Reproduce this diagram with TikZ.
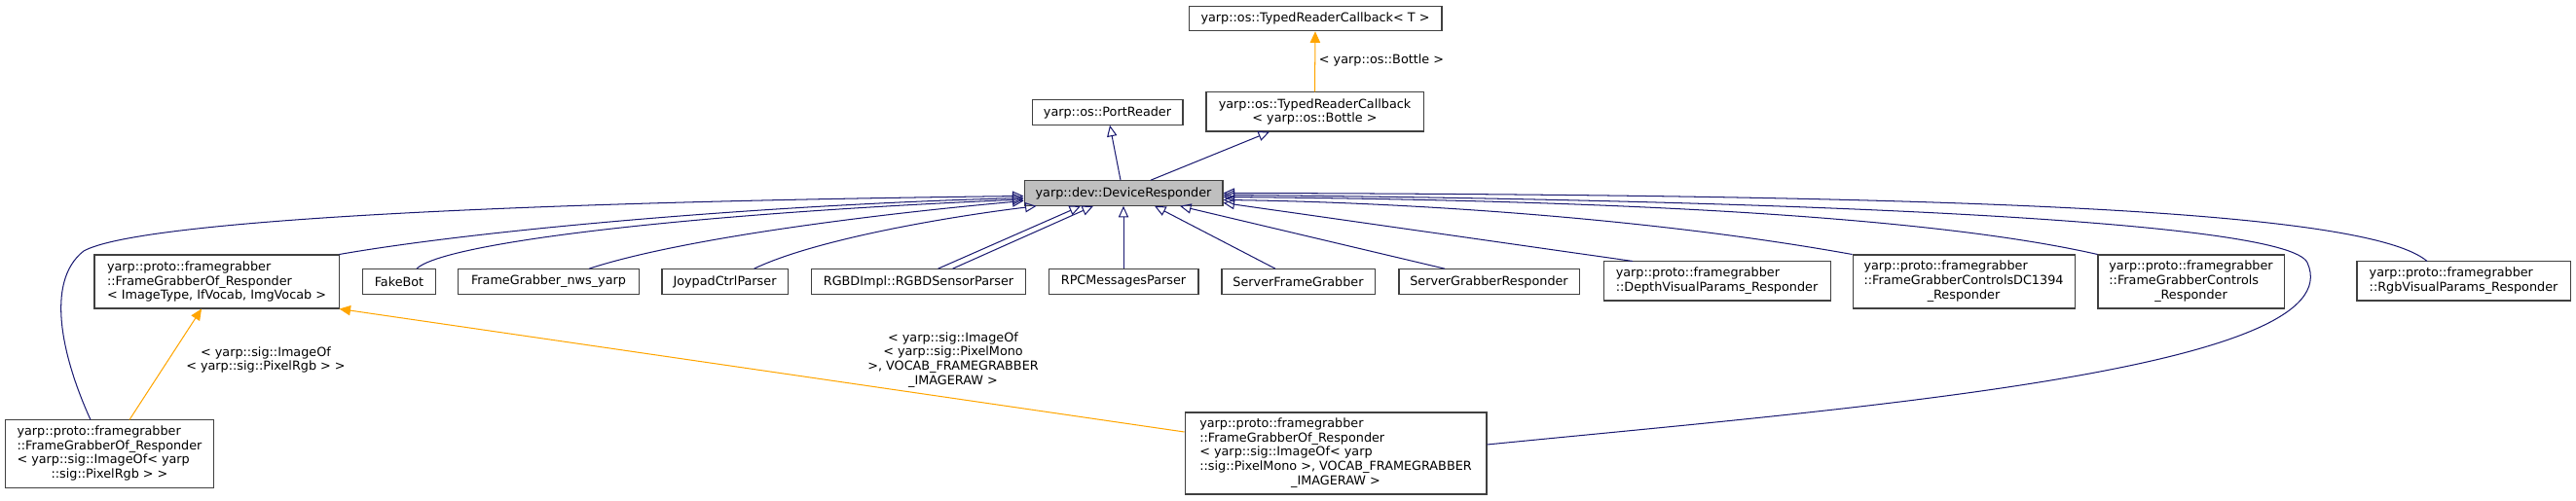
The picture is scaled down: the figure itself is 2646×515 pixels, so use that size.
\documentclass[tikz,border=0pt]{standalone}
\usepackage{fontspec}
\setmainfont{DejaVu Sans}
\usepackage{xcolor}
\usetikzlibrary{arrows.meta,calc}
\definecolor{edgeblue}{HTML}{191970}
\definecolor{edgeorange}{HTML}{FFA500}
\definecolor{boxline}{HTML}{404040}
\definecolor{curfill}{HTML}{BFBFBF}
\newcommand{\lastline}[1]{\multicolumn{1}{@{}c@{}}{#1}}

\begin{document}
\begin{tikzpicture}[x=0.782pt, y=-0.782pt]
  \tikzstyle{cls}=[draw=boxline, line width=0.8pt, fill=white, inner sep=0pt,
    font=\fontsize{10}{11.5}\selectfont, minimum height=20pt];
  \tikzstyle{current}=[cls, fill=curfill];
  \tikzstyle{inherit}=[draw=edgeblue, line width=0.8pt,
    -{Triangle[open, length=9pt, width=8pt]}];
  \tikzstyle{templ}=[draw=edgeorange, line width=0.8pt,
    -{Triangle[length=9pt, width=8pt]}];
  \tikzstyle{lbl}=[inner sep=0pt, font=\fontsize{10}{11.5}\selectfont];
  \useasboundingbox (0, 0) rectangle (2646, 515);

  \draw (1351, 19) node[cls, minimum width=203.3pt] (trcT) {yarp::os::TypedReaderCallback< T >};
  \draw (1350.5, 115) node[cls, minimum width=174.4pt, minimum height=31.3pt, align=center] (trcB)
    {yarp::os::TypedReaderCallback\\< yarp::os::Bottle >};
  \draw (1137.5, 115.5) node[cls, minimum width=121.2pt] (portreader) {yarp::os::PortReader};
  \draw (1154, 198.5) node[current, minimum width=159.5pt] (devresp) {yarp::dev::DeviceResponder};

  \draw (222.5, 289.5) node[cls, minimum width=196.3pt, minimum height=43pt, align=left] (fgofT)
    {yarp::proto::framegrabber\\::FrameGrabberOf\_Responder\\< ImageType, IfVocab, ImgVocab >};
  \draw (410, 289.5) node[cls, minimum width=57.9pt] (fakebot) {FakeBot};
  \draw (563.5, 289.5) node[cls, minimum width=144.7pt] (nws) {FrameGrabber\_nws\_yarp};
  \draw (744.5, 289.5) node[cls, minimum width=100.9pt] (joypad) {JoypadCtrlParser};
  \draw (943.5, 289.5) node[cls, minimum width=171.3pt] (rgbd) {RGBDImpl::RGBDSensorParser};
  \draw (1154, 289.5) node[cls, minimum width=120.4pt] (rpc) {RPCMessagesParser};
  \draw (1333.5, 289.5) node[cls, minimum width=122.8pt] (sfg) {ServerFrameGrabber};
  \draw (1529.5, 289.5) node[cls, minimum width=144.7pt] (sgr) {ServerGrabberResponder};
  \draw (1763.5, 289) node[cls, minimum width=182.2pt, minimum height=31.3pt, align=left] (depth)
    {yarp::proto::framegrabber\\::DepthVisualParams\_Responder};
  \draw (2017, 289.5) node[cls, minimum width=178.3pt, minimum height=43pt] (dc1394)
    {\begin{tabular}{@{}l@{}}yarp::proto::framegrabber\\::FrameGrabberControlsDC1394\\\lastline{\_Responder}\end{tabular}};
  \draw (2250.5, 289.5) node[cls, minimum width=149.4pt, minimum height=43pt] (fgctrl)
    {\begin{tabular}{@{}l@{}}yarp::proto::framegrabber\\::FrameGrabberControls\\\lastline{\_Responder}\end{tabular}};
  \draw (2530.5, 289) node[cls, minimum width=171.3pt, minimum height=31.3pt, align=left] (rgbvis)
    {yarp::proto::framegrabber\\::RgbVisualParams\_Responder};

  \draw (112.5, 466.5) node[cls, minimum width=168.1pt, minimum height=54pt] (fgofRgb)
    {\begin{tabular}{@{}l@{}}yarp::proto::framegrabber\\::FrameGrabberOf\_Responder\\< yarp::sig::ImageOf< yarp\\\lastline{::sig::PixelRgb > >}\end{tabular}};
  \draw (1372, 466) node[cls, minimum width=242.4pt, minimum height=65.7pt] (fgofMono)
    {\begin{tabular}{@{}l@{}}yarp::proto::framegrabber\\::FrameGrabberOf\_Responder\\< yarp::sig::ImageOf< yarp\\::sig::PixelMono >, VOCAB\_FRAMEGRABBER\\\lastline{\_IMAGERAW >}\end{tabular}};

  \draw (1419, 62) node[lbl] (lblBottle) {< yarp::os::Bottle >};
  \draw (273, 370) node[lbl, align=center] (lblRgb) {< yarp::sig::ImageOf\\< yarp::sig::PixelRgb > >};
  \draw (979, 370) node[lbl, align=center] (lblMono)
    {< yarp::sig::ImageOf\\< yarp::sig::PixelMono\\>, VOCAB\_FRAMEGRABBER\\\_IMAGERAW >};

  \draw[inherit] ($(devresp.north)+(-3,0)$) -- ($(portreader.south)+(2.5,0)$);
  \draw[inherit] ($(devresp.north)+(28,0)$) -- ($(trcB.south)+(-46.5,0)$);
  \draw[templ] (trcB.north) -- (trcT.south);

  \draw[inherit] ($(fgofRgb.north)+(-19.5,0)$) .. controls (65, 370) and (45, 290) .. (86, 258)
    .. controls (140, 228) and (500, 208) .. ($(devresp.west)+(0,3)$);
  \draw[inherit] (fgofT.north east) .. controls (500, 235) and (800, 210) .. ($(devresp.west)+(0,5)$);
  \draw[inherit] ($(fakebot.north)+(18,0)$) .. controls (455, 250) and (700, 220) .. ($(devresp.west)+(0,6.5)$);
  \draw[inherit] ($(nws.north)+(41.5,0)$) .. controls (700, 245) and (900, 220) .. ($(devresp.west)+(0,8)$);
  \draw[inherit] ($(joypad.north)+(30,0)$) .. controls (840, 245) and (980, 222) .. ($(devresp.south west)+(13,0)$);
  \draw[inherit] ($(rgbd.north)+(20,0)$) -- ($(devresp.south)+(-44,0)$);
  \draw[inherit] ($(rgbd.north)+(35,0)$) -- ($(devresp.south)+(-31,0)$);
  \draw[inherit] (rpc.north) -- (devresp.south);
  \draw[inherit] ($(sfg.north)+(-23.5,0)$) -- ($(devresp.south)+(32,0)$);
  \draw[inherit] ($(sgr.north)+(-45.5,0)$) -- ($(devresp.south)+(58,0)$);
  \draw[inherit] ($(depth.north)+(-86.5,0)$) -- ($(devresp.east)+(0,10)$);
  \draw[inherit] (dc1394.north west) .. controls (1700, 225) and (1450, 208) .. ($(devresp.east)+(0,7)$);
  \draw[inherit] (fgctrl.north west) .. controls (1950, 215) and (1550, 205) .. ($(devresp.east)+(0,4)$);
  \draw[inherit] ($(fgofMono.east)+(0,-9)$) .. controls (1900, 420) and (2420, 380) .. (2370, 270)
    .. controls (2350, 225) and (1800, 205) .. ($(devresp.east)+(0,2)$);
  \draw[inherit] ($(rgbvis.north)+(-37.5,0)$) .. controls (2430, 215) and (2000, 200) .. (devresp.east);

  \draw[templ] ($(fgofRgb.north)+(20.5,0)$) -- ($(fgofT.south)+(-15.5,0)$);
  \draw[templ] ($(fgofMono.west)+(0,-22)$) -- (fgofT.south east);
\end{tikzpicture}
\end{document}
